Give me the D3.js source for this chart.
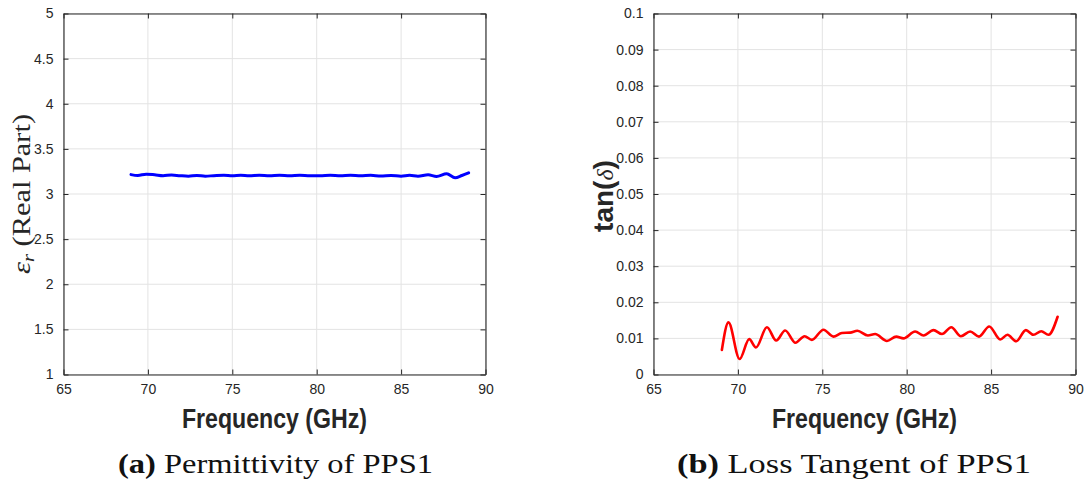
<!DOCTYPE html>
<html>
<head>
<meta charset="utf-8">
<script src="https://cdn.jsdelivr.net/npm/d3@7"></script>
<style>
  html, body { margin: 0; padding: 0; background: #fff; }
  svg { display: block; }
</style>
</head>
<body>
<svg id="chart" width="1087" height="486"></svg>
<script>
// ---- Data ----
const xTicks = [65, 70, 75, 80, 85, 90];
const epsTicks = [1, 1.5, 2, 2.5, 3, 3.5, 4, 4.5, 5];
const tanTicks = [0, 0.01, 0.02, 0.03, 0.04, 0.05, 0.06, 0.07, 0.08, 0.09, 0.1];

const epsFreq = [69.0, 69.4, 69.9, 70.4, 70.9, 71.4, 71.9, 72.4, 72.9, 73.4, 73.9, 74.5, 75.0, 75.5, 76.0, 76.6,
  77.2, 77.8, 78.4, 79.0, 79.6, 80.2, 80.8, 81.4, 82.0, 82.6, 83.2, 83.8, 84.4, 85.0, 85.5, 86.0, 86.6, 87.1,
  87.7, 88.2, 88.6, 89.0];
const epsVals = [3.215, 3.205, 3.22, 3.213, 3.203, 3.21, 3.203, 3.198, 3.205, 3.198, 3.203, 3.208, 3.203, 3.208,
  3.203, 3.208, 3.203, 3.208, 3.203, 3.207, 3.203, 3.203, 3.207, 3.203, 3.207, 3.203, 3.207, 3.199, 3.204, 3.198,
  3.208, 3.198, 3.213, 3.195, 3.225, 3.18, 3.205, 3.235];

const tanFreq = [69.05, 69.44, 70.1, 70.67, 71.07, 71.72, 72.27, 72.8, 73.41, 73.95, 74.38, 75.07, 75.66, 76.16,
  76.65, 77.08, 77.7, 78.13, 78.83, 79.38, 79.81, 80.5, 81.0, 81.59, 82.09, 82.64, 83.21, 83.76, 84.28, 84.89,
  85.54, 85.97, 86.49, 87.06, 87.51, 87.97, 88.4, 88.94];
const tanVals = [0.0068, 0.01445, 0.0043, 0.0098, 0.0075, 0.0131, 0.0094, 0.0122, 0.0088, 0.0106, 0.0096, 0.0124,
  0.0105, 0.0115, 0.0116, 0.0121, 0.0108, 0.0112, 0.0093, 0.0105, 0.0100, 0.0119, 0.0108, 0.0123, 0.0112, 0.0131,
  0.0106, 0.0119, 0.0105, 0.0133, 0.0097, 0.0110, 0.0092, 0.0123, 0.0110, 0.0120, 0.0110, 0.0160];

const captionA = ["(a)", " Permittivity of PPS1"];
const captionB = ["(b)", " Loss Tangent of PPS1"];

// ---- Drawing ----
const svg = d3.select("#chart");
const SANS = "'Liberation Sans', Arial, Helvetica, sans-serif";
const NARROW = "'Liberation Sans Narrow', 'Liberation Sans', Arial, sans-serif";
const SERIF = "'Liberation Serif', 'Times New Roman', serif";
const AX = "#262626";
const GRID = "#e3e3e3";

function panel(opts) {
  const { left, right, top, bottom, yDomain, yTicks, yFmt, xs, ys, color, width } = opts;
  const x = d3.scaleLinear().domain([65, 90]).range([left, right]);
  const y = d3.scaleLinear().domain(yDomain).range([bottom, top]);
  const g = svg.append("g");

  g.append("g").selectAll("line").data(xTicks).join("line")
    .attr("x1", d => x(d)).attr("x2", d => x(d)).attr("y1", top).attr("y2", bottom)
    .attr("stroke", GRID).attr("stroke-width", 1);
  g.append("g").selectAll("line").data(yTicks).join("line")
    .attr("y1", d => y(d)).attr("y2", d => y(d)).attr("x1", left).attr("x2", right)
    .attr("stroke", GRID).attr("stroke-width", 1);

  const line = d3.line().x((d, i) => x(xs[i])).y((d, i) => y(ys[i])).curve(d3.curveMonotoneX);
  g.append("path").datum(ys).attr("d", line).attr("fill", "none")
    .attr("stroke", color).attr("stroke-width", width).attr("stroke-linejoin", "round").attr("stroke-linecap", "round");

  const tl = 5;
  const axB = d3.axisBottom(x).tickValues(xTicks).tickSizeInner(-tl).tickSizeOuter(0).tickPadding(10).tickFormat(d3.format("d"));
  const axT = d3.axisTop(x).tickValues(xTicks).tickSizeInner(-tl).tickSizeOuter(0).tickFormat("");
  const axL = d3.axisLeft(y).tickValues(yTicks).tickSizeInner(-tl).tickSizeOuter(0).tickPadding(10).tickFormat(yFmt);
  const axR = d3.axisRight(y).tickValues(yTicks).tickSizeInner(-tl).tickSizeOuter(0).tickFormat("");

  const styleAxis = sel => {
    sel.selectAll("path.domain").attr("stroke", AX).attr("stroke-width", 1.1);
    sel.selectAll(".tick line").attr("stroke", AX).attr("stroke-width", 1);
    sel.selectAll(".tick text").attr("fill", AX).attr("font-family", SANS).attr("font-size", 14);
  };
  g.append("g").attr("transform", `translate(0,${bottom})`).call(axB).call(styleAxis);
  g.append("g").attr("transform", `translate(0,${top})`).call(axT).call(styleAxis);
  g.append("g").attr("transform", `translate(${left},0)`).call(axL).call(styleAxis);
  g.append("g").attr("transform", `translate(${right},0)`).call(axR).call(styleAxis);
  return { x, y, g };
}

const TOP = 13.5, BOT = 374.5;
const pA = panel({ left: 63.5, right: 485.5, top: TOP, bottom: BOT, yDomain: [1, 5], yTicks: epsTicks,
  yFmt: d3.format("~g"), xs: epsFreq, ys: epsVals, color: "#0000ff", width: 3 });
const pB = panel({ left: 653.5, right: 1075.5, top: TOP, bottom: BOT, yDomain: [0, 0.1], yTicks: tanTicks,
  yFmt: d => d === 0 ? "0" : d3.format("~g")(d), xs: tanFreq, ys: tanVals, color: "#ff0000", width: 2.6 });

// x labels
[274.5, 864.5].forEach(cx => {
  svg.append("text").attr("x", cx).attr("y", 428).attr("text-anchor", "middle")
    .attr("font-family", NARROW).attr("font-weight", "bold").attr("font-size", 28).attr("fill", AX)
    .attr("textLength", 185).attr("lengthAdjust", "spacingAndGlyphs")
    .text("Frequency (GHz)");
});

// y label left (serif, math)
const yl = svg.append("text").attr("transform", "translate(30,194) rotate(-90)").attr("text-anchor", "middle")
  .attr("font-family", SERIF).attr("font-size", 25).attr("fill", AX)
  .attr("textLength", 160).attr("lengthAdjust", "spacingAndGlyphs");
yl.append("tspan").attr("font-style", "italic").text("ε");
yl.append("tspan").attr("font-style", "italic").attr("font-size", 17).attr("dy", 4).text("r");
yl.append("tspan").attr("dy", -4).text("  (Real Part)");

// y label right
const yr = svg.append("text").attr("transform", "translate(613,196) rotate(-90)").attr("text-anchor", "middle")
  .attr("font-family", NARROW).attr("font-weight", "bold").attr("font-size", 28).attr("fill", AX);
yr.append("tspan").text("tan(");
yr.append("tspan").attr("font-family", SERIF).attr("font-style", "italic").attr("font-weight", "normal").attr("font-size", 24).text("δ");
yr.append("tspan").text(")");

// captions
function caption(parts, xEnd, len) {
  const t = svg.append("text").attr("x", xEnd - len).attr("y", 473).attr("font-family", SERIF).attr("font-size", 27)
    .attr("fill", "#111").attr("textLength", len).attr("lengthAdjust", "spacingAndGlyphs");
  t.append("tspan").attr("font-weight", "bold").text(parts[0]);
  t.append("tspan").text(parts[1]);
}
caption(captionA, 433, 315);
caption(captionB, 1031, 354);
</script>
</body>
</html>
